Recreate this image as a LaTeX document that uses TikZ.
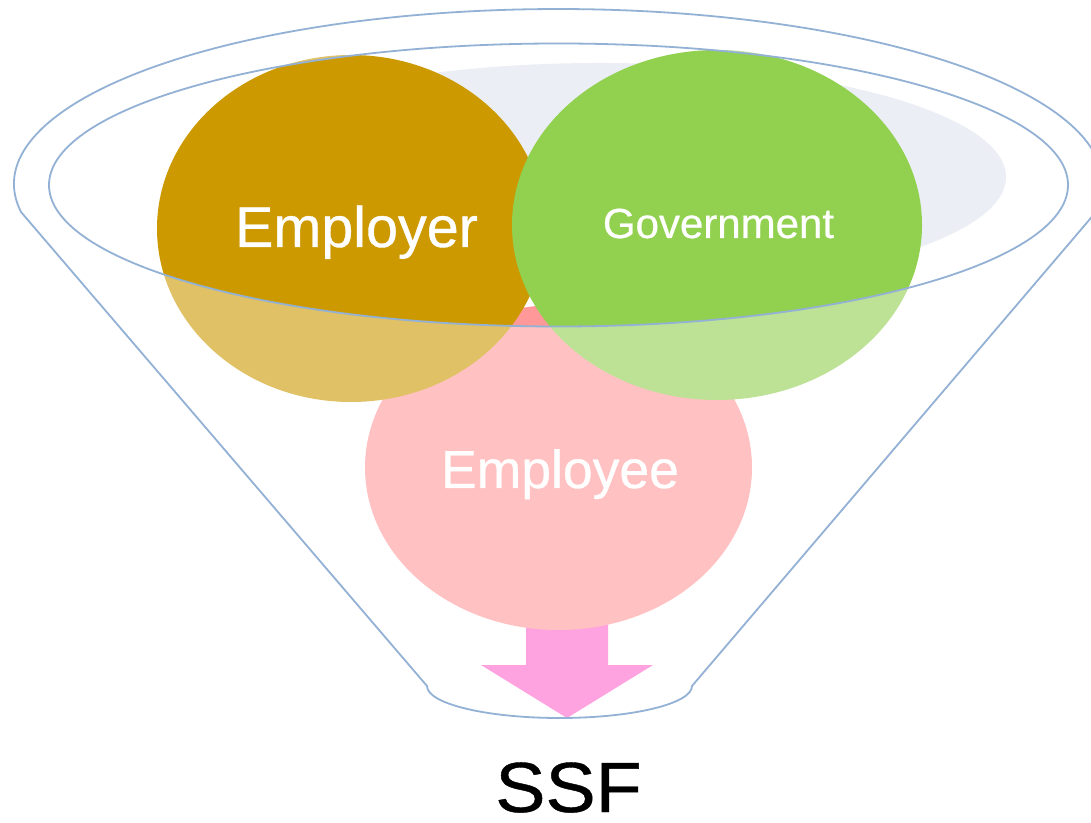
\documentclass[tikz,border=0pt]{standalone}
\usepackage{fontspec}
\setmainfont{Liberation Sans}
\newfontfamily\labelfont{Liberation Sans}[FakeBold=0.6]
\usetikzlibrary{shapes.geometric}

\definecolor{employerGold}{HTML}{CC9900}
\definecolor{govGreen}{HTML}{92D050}
\definecolor{employeePink}{HTML}{FF9999}
\definecolor{arrowPink}{HTML}{FF66CC}
\definecolor{mouthShade}{HTML}{EBEEF4}
\definecolor{funnelLine}{HTML}{93B1D5}

% outline of the funnel: rim arc, two sides and the rounded spout
\newcommand\funnelpath{(21,610) arc[start angle=189.2, end angle=-9.2, x radius=544.5, y radius=175]
  -- (692,136) arc[start angle=0, end angle=-180, x radius=132.5, y radius=32] -- cycle}
\newcommand\mouthpath{(558.5,637) ellipse[x radius=509.5, y radius=141.5]}

\tikzset{
  blob/.style={ellipse, inner sep=0pt, draw=none},
  blobtext/.style={text=white, inner sep=0pt, anchor=base},
  funneledge/.style={draw=funnelLine, line width=1.8pt},
}

\begin{document}
\begin{tikzpicture}[x=1pt, y=1pt]
\clip (0,0) rectangle (1091,822);
\fill[white] (0,0) rectangle (1091,822);

% shaded inside of the funnel mouth
\fill[mouthShade] (600,645) ellipse[x radius=406, y radius=114];

% outflow arrow at the spout
\fill[arrowPink] (526,230) -- (608,230) -- (608,157) -- (653,157) -- (567,104)
  -- (481,157) -- (526,157) -- cycle;

% the three contributors
\node[blob, fill=employeePink, minimum width=387pt, minimum height=325pt] (employee) at (558.5,354.5) {};
\node[blob, fill=employerGold, minimum width=388pt, minimum height=347pt] (employer) at (351,593.5) {};
\node[blob, fill=govGreen, minimum width=410pt, minimum height=350pt] (government) at (717,597) {};

% translucent front wall of the funnel below the rim
\fill[white, opacity=0.4, even odd rule] \funnelpath \mouthpath;

% funnel outline and rim
\draw[funneledge, line join=round] \funnelpath;
\draw[funneledge] \mouthpath;

% labels
\node[blobtext, font=\labelfont\fontsize{57.5}{58}\selectfont] (employerlabel) at (356.5,575) {Employer};
\node[blobtext, font=\labelfont\fontsize{42}{42}\selectfont] (govlabel) at (718.5,584) {Government};
\node[blobtext, font=\labelfont\fontsize{53.5}{54}\selectfont] (employeelabel) at (560,334) {Employee};
\node[inner sep=0pt, anchor=base, xscale=1.06, font=\labelfont\fontsize{71}{72}\selectfont] (ssf) at (568.5,10) {SSF};
\end{tikzpicture}
\end{document}
